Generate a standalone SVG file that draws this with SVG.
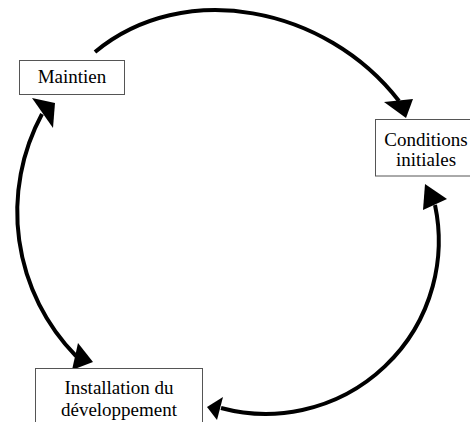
<svg xmlns="http://www.w3.org/2000/svg" width="470" height="422" viewBox="0 0 470 422">
<style>
.box{fill:#fff;stroke:#555;stroke-width:1}
.lbl{font-family:"Liberation Serif","Times New Roman",serif;font-size:19px;fill:#000;text-anchor:middle}
.arc{fill:none;stroke:#000;stroke-width:4}
.head{fill:#000;stroke:none}
</style>
<rect width="470" height="422" fill="#fff"/>
<g id="connectors">
<path class="arc" d="M95,52 C183.6,-21.6 325.8,6.2 399,101"/>
<polygon class="head" points="384,102 413,99 406,118"/>
<path class="arc" d="M435,205 A173,173 0 0 1 221,408"/>
<polygon class="head" points="425,184 447,199 423,210"/>
<polygon class="head" points="207,407 223,397 217,420"/>
<path class="arc" d="M42,114 A206,206 0 0 0 76,356"/>
<polygon class="head" points="32,98 55,103 53,128"/>
<polygon class="head" points="78,343 93,362 72,370"/>
</g>
<g id="node-maintien">
<rect class="box" x="19.5" y="60.5" width="105" height="34"/>
<text class="lbl" x="72" y="83">Maintien</text>
</g>
<g id="node-conditions">
<rect class="box" x="375.5" y="119.5" width="100" height="56.5"/>
<text class="lbl" x="426" y="146">Conditions</text>
<text class="lbl" x="426" y="166">initiales</text>
</g>
<g id="node-installation">
<rect class="box" x="35.5" y="368.5" width="167" height="60"/>
<text class="lbl" x="119" y="393.5">Installation du</text>
<text class="lbl" x="119" y="415.5">développement</text>
</g>
</svg>
